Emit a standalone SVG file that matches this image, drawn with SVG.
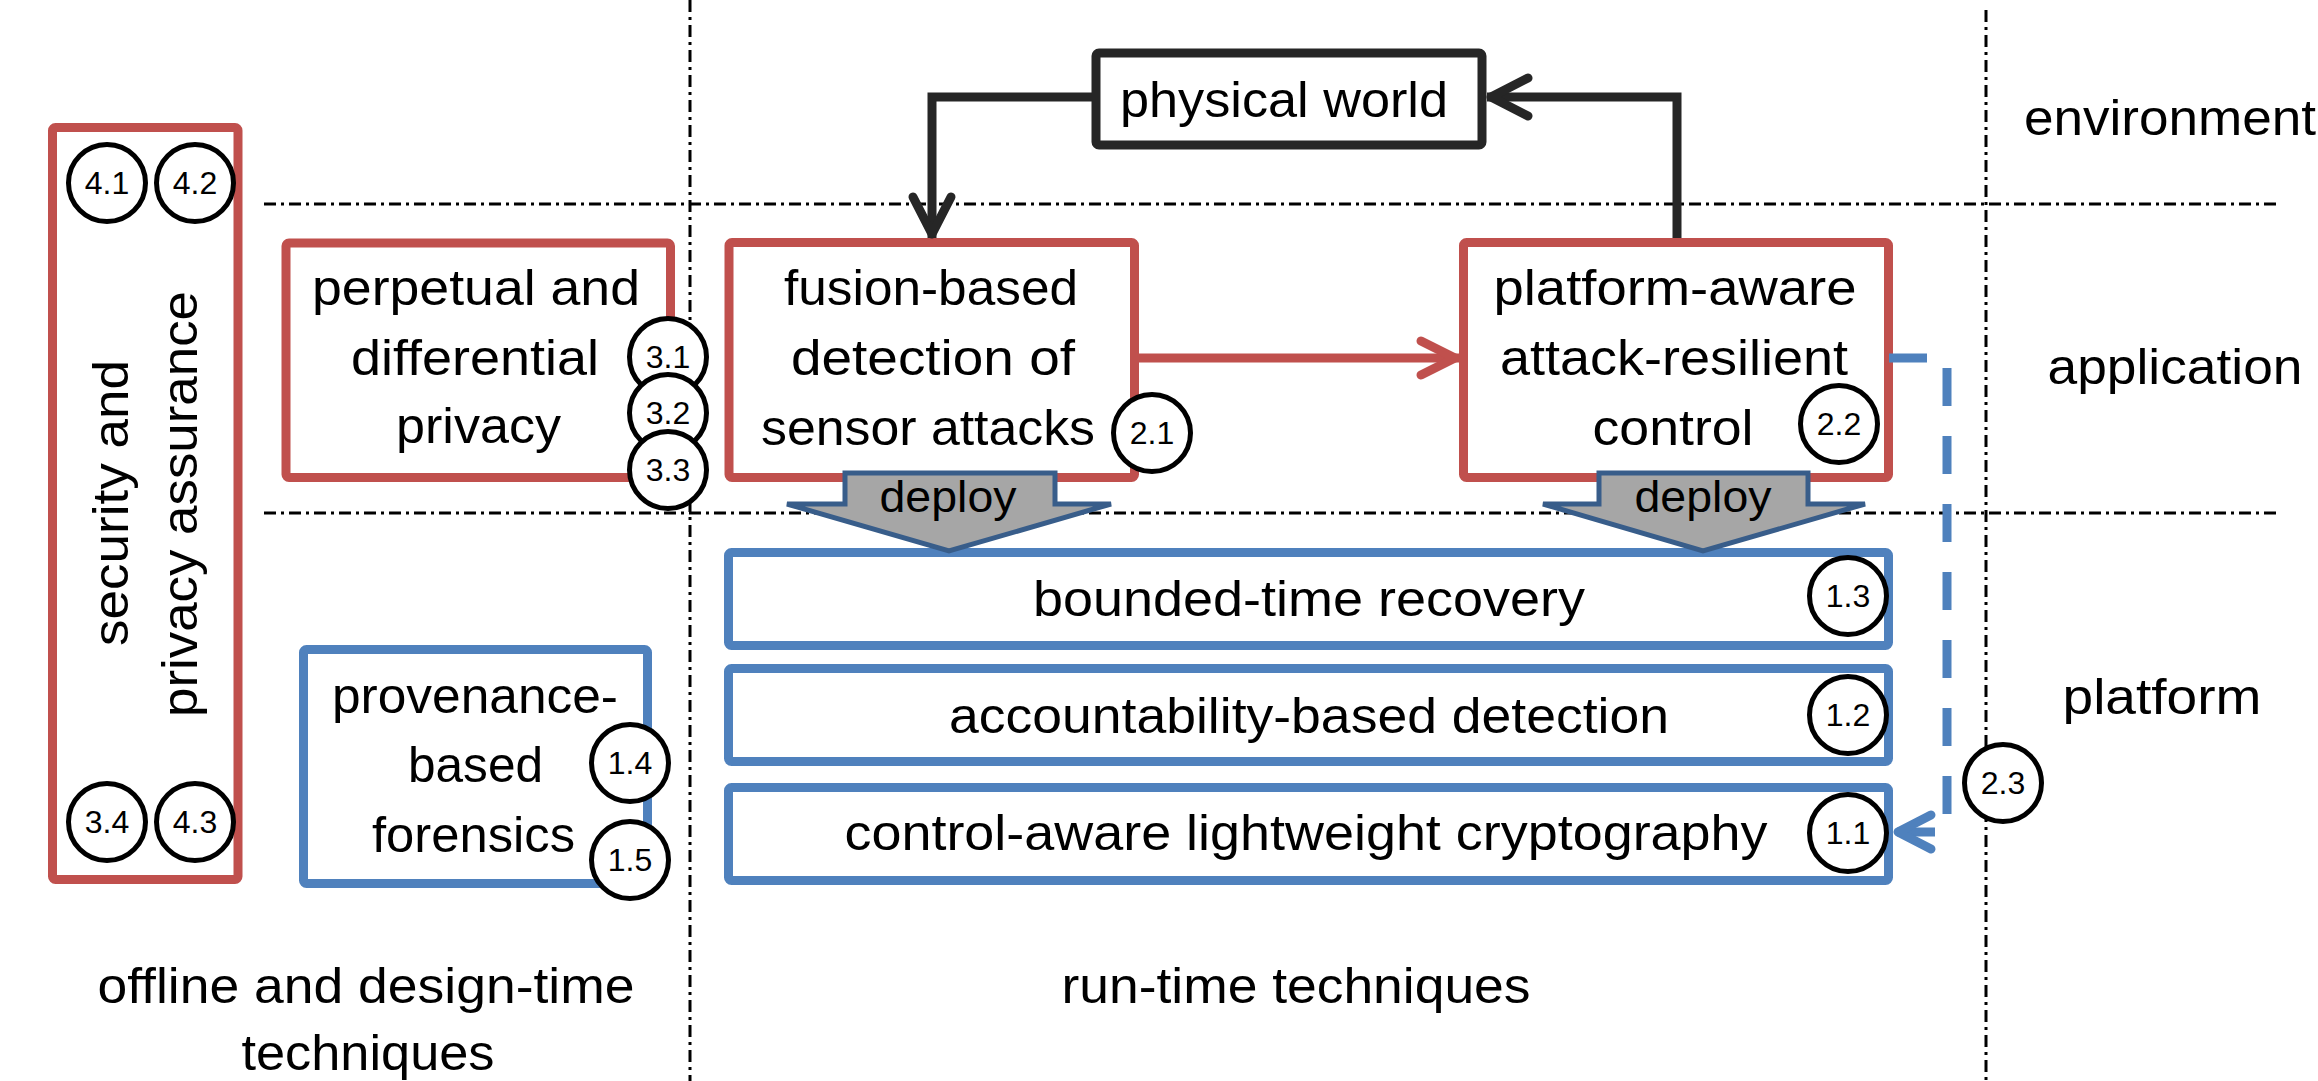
<svg xmlns="http://www.w3.org/2000/svg" width="2318" height="1081" viewBox="0 0 2318 1081">
<style>
text{font-family:"Liberation Sans",Arial,sans-serif;fill:#000}
.t{font-size:50px;text-anchor:middle}
.lab{font-size:50px;text-anchor:middle}
.num{font-size:32px;text-anchor:middle}
.dep{font-size:45px;text-anchor:middle}
.sep{stroke:#000;stroke-width:3;stroke-dasharray:12 5 3 5;fill:none}
.red{fill:#fff;stroke:#C0504D;stroke-width:9}
.blue{fill:#fff;stroke:#4F81BD;stroke-width:9}
.blk{fill:#fff;stroke:#262626;stroke-width:9}
.circ{fill:#fff;stroke:#000;stroke-width:5}
.deploy{fill:#A6A6A6;stroke:#385D8A;stroke-width:5;stroke-linejoin:miter}
</style>
<defs>
<marker id="aBlk" markerUnits="userSpaceOnUse" viewBox="-50 -30 60 60" markerWidth="60" markerHeight="60" refX="0" refY="0" orient="auto" overflow="visible">
<path d="M-41,-19 L-4,0 L-41,19" fill="none" stroke="#262626" stroke-width="9" stroke-linecap="round" stroke-linejoin="round"/>
</marker>
<marker id="aRed" markerUnits="userSpaceOnUse" viewBox="-50 -30 60 60" markerWidth="60" markerHeight="60" refX="0" refY="0" orient="auto" overflow="visible">
<path d="M-38,-17 L-4,0 L-38,17" fill="none" stroke="#C0504D" stroke-width="9" stroke-linecap="round" stroke-linejoin="round"/>
</marker>
<marker id="aBlue" markerUnits="userSpaceOnUse" viewBox="-50 -30 60 60" markerWidth="60" markerHeight="60" refX="0" refY="0" orient="auto" overflow="visible">
<path d="M-36,-17 L-3,0 L-36,17" fill="none" stroke="#4F81BD" stroke-width="9" stroke-linecap="round" stroke-linejoin="round"/>
</marker>
</defs>
<rect width="2318" height="1081" fill="#fff"/>

<g id="separators">
<line class="sep" x1="690" y1="0" x2="690" y2="1081"/>
<line class="sep" x1="1986" y1="10" x2="1986" y2="1081"/>
<line class="sep" x1="264" y1="204" x2="2276" y2="204"/>
<line class="sep" x1="264" y1="513" x2="2276" y2="513"/>
</g>

<g id="labels">
<text class="lab" x="2170" y="135" textLength="292" lengthAdjust="spacingAndGlyphs">environment</text>
<text class="lab" x="2175" y="384" textLength="255" lengthAdjust="spacingAndGlyphs">application</text>
<text class="lab" x="2162" y="714" textLength="199" lengthAdjust="spacingAndGlyphs">platform</text>
<text class="lab" x="366" y="1003" textLength="537" lengthAdjust="spacingAndGlyphs">offline  and design-time</text>
<text class="lab" x="368" y="1070" textLength="253" lengthAdjust="spacingAndGlyphs">techniques</text>
<text class="lab" x="1296" y="1003" textLength="469" lengthAdjust="spacingAndGlyphs">run-time techniques</text>
</g>

<g id="security-privacy-assurance">
<rect class="red" x="52.5" y="127.5" width="185.5" height="752" rx="3"/>
<text class="t" transform="translate(128,503) rotate(-90)" textLength="286" lengthAdjust="spacingAndGlyphs">security and</text>
<text class="t" transform="translate(197,504) rotate(-90)" textLength="426" lengthAdjust="spacingAndGlyphs">privacy  assurance</text>
</g>

<g id="perpetual-differential-privacy">
<rect class="red" x="286" y="243" width="384.5" height="234.5" rx="3"/>
<text class="t" x="476" y="305" textLength="328" lengthAdjust="spacingAndGlyphs">perpetual  and</text>
<text class="t" x="475" y="375" textLength="248" lengthAdjust="spacingAndGlyphs">differential</text>
<text class="t" x="478.5" y="443" textLength="165" lengthAdjust="spacingAndGlyphs">privacy</text>
</g>

<g id="fusion-detection">
<rect class="red" x="729" y="242.5" width="405.5" height="235" rx="3"/>
<text class="t" x="931" y="305" textLength="294" lengthAdjust="spacingAndGlyphs">fusion-based</text>
<text class="t" x="933" y="375" textLength="284" lengthAdjust="spacingAndGlyphs">detection of</text>
<text class="t" x="928" y="445" textLength="334" lengthAdjust="spacingAndGlyphs">sensor attacks</text>
</g>

<g id="platform-aware-control">
<rect class="red" x="1463.5" y="242.5" width="425" height="235" rx="3"/>
<text class="t" x="1675" y="305" textLength="363" lengthAdjust="spacingAndGlyphs">platform-aware</text>
<text class="t" x="1674" y="375" textLength="348" lengthAdjust="spacingAndGlyphs">attack-resilient</text>
<text class="t" x="1673" y="445" textLength="161" lengthAdjust="spacingAndGlyphs">control</text>
</g>

<g id="physical-world">
<rect class="blk" x="1096" y="53" width="386" height="92" rx="3"/>
<text class="t" x="1284" y="117" textLength="328" lengthAdjust="spacingAndGlyphs">physical world</text>
</g>

<g id="bounded-time-recovery">
<rect class="blue" x="728.5" y="552.5" width="1160" height="93" rx="3"/>
<text class="t" x="1309" y="616" textLength="552" lengthAdjust="spacingAndGlyphs">bounded-time  recovery</text>
</g>

<g id="accountability-detection">
<rect class="blue" x="728.5" y="668.5" width="1160" height="93" rx="3"/>
<text class="t" x="1309" y="733" textLength="720" lengthAdjust="spacingAndGlyphs">accountability-based detection</text>
</g>

<g id="lightweight-cryptography">
<rect class="blue" x="728.5" y="787.5" width="1160" height="93" rx="3"/>
<text class="t" x="1306" y="850" textLength="923" lengthAdjust="spacingAndGlyphs">control-aware lightweight  cryptography</text>
</g>

<g id="provenance-forensics">
<rect class="blue" x="303.5" y="649.5" width="344" height="234" rx="3"/>
<text class="t" x="475" y="713" textLength="286" lengthAdjust="spacingAndGlyphs">provenance-</text>
<text class="t" x="475.5" y="782" textLength="135" lengthAdjust="spacingAndGlyphs">based</text>
<text class="t" x="473.5" y="852" textLength="203" lengthAdjust="spacingAndGlyphs">forensics</text>
</g>

<g id="connectors">
<path d="M1092,97 H932 V238" fill="none" stroke="#262626" stroke-width="9" marker-end="url(#aBlk)"/>
<path d="M1677,238 V97 H1487" fill="none" stroke="#262626" stroke-width="9" marker-end="url(#aBlk)"/>
<path d="M1139,358 H1459" fill="none" stroke="#C0504D" stroke-width="9" marker-end="url(#aRed)"/>
<path d="M1889,358 H1947 V832 H1895" fill="none" stroke="#4F81BD" stroke-width="9" stroke-dasharray="38 30" marker-end="url(#aBlue)"/>
</g>

<g id="deploy-left">
<path class="deploy" d="M845,473 H1055 V504 H1111 L949,551 L787,504 H845 Z"/>
<text class="dep" x="948" y="512" textLength="137" lengthAdjust="spacingAndGlyphs">deploy</text>
</g>
<g id="deploy-right">
<path class="deploy" d="M1599,473 H1808 V504 H1865 L1703,551 L1543,504 H1599 Z"/>
<text class="dep" x="1703" y="512" textLength="137" lengthAdjust="spacingAndGlyphs">deploy</text>
</g>

<g id="markers">
<g id="m41"><circle class="circ" cx="107" cy="183" r="38.5"/><text class="num" x="107" y="194">4.1</text></g>
<g id="m42"><circle class="circ" cx="195" cy="183" r="38.5"/><text class="num" x="195" y="194">4.2</text></g>
<g id="m34"><circle class="circ" cx="107" cy="822" r="38.5"/><text class="num" x="107" y="833">3.4</text></g>
<g id="m43"><circle class="circ" cx="195" cy="822" r="38.5"/><text class="num" x="195" y="833">4.3</text></g>
<g id="m31"><circle class="circ" cx="668" cy="357" r="38.5"/><text class="num" x="668" y="368">3.1</text></g>
<g id="m32"><circle class="circ" cx="668" cy="413" r="38.5"/><text class="num" x="668" y="424">3.2</text></g>
<g id="m33"><circle class="circ" cx="668" cy="470" r="38.5"/><text class="num" x="668" y="481">3.3</text></g>
<g id="m21"><circle class="circ" cx="1152" cy="433" r="38.5"/><text class="num" x="1152" y="444">2.1</text></g>
<g id="m22"><circle class="circ" cx="1839" cy="424" r="38.5"/><text class="num" x="1839" y="435">2.2</text></g>
<g id="m13"><circle class="circ" cx="1848" cy="596" r="38.5"/><text class="num" x="1848" y="607">1.3</text></g>
<g id="m12"><circle class="circ" cx="1848" cy="715" r="38.5"/><text class="num" x="1848" y="726">1.2</text></g>
<g id="m11"><circle class="circ" cx="1848" cy="833" r="38.5"/><text class="num" x="1848" y="844">1.1</text></g>
<g id="m14"><circle class="circ" cx="630" cy="763" r="38.5"/><text class="num" x="630" y="774">1.4</text></g>
<g id="m15"><circle class="circ" cx="630" cy="860" r="38.5"/><text class="num" x="630" y="871">1.5</text></g>
<g id="m23"><circle class="circ" cx="2003" cy="783" r="38.5"/><text class="num" x="2003" y="794">2.3</text></g>
</g>
</svg>
